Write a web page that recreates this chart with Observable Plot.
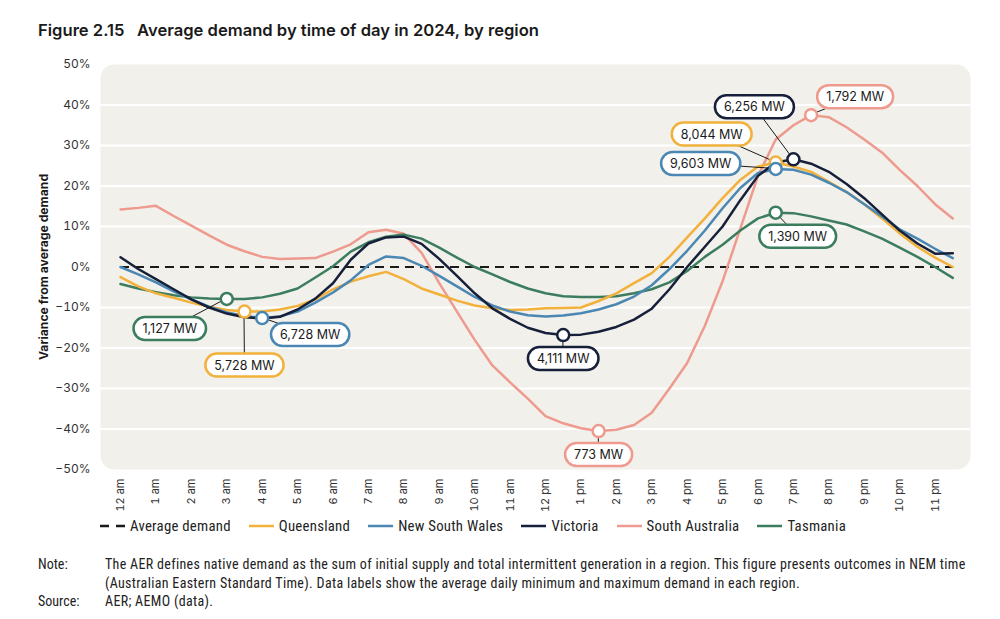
<!DOCTYPE html>
<html>
<head>
<meta charset="utf-8">
<script src="https://cdn.jsdelivr.net/npm/d3@7"></script>
<script src="https://cdn.jsdelivr.net/npm/@observablehq/plot@0.6"></script>
<style>
  html, body { margin: 0; padding: 0; background: #fff; }
  body { width: 1000px; height: 619px; overflow: hidden; font-family: Inter, Lato, sans-serif; color: #1a1a1a; }
  #title { height: 50px; box-sizing: border-box; padding: 20px 0 0 38px; font-size: 16.6px; font-weight: 600; white-space: pre; }
  #chart { height: 470px; }
  #legend { display: flex; align-items: center; height: 16px; margin-top: -2px; padding-left: 100px; font-family: "Roboto Condensed", "Liberation Sans Narrow", Roboto, sans-serif; font-size: 14.8px; letter-spacing: 0.25px; color: #222; }
  #legend .item { display: flex; align-items: center; margin-right: 18px; }
  #legend svg { margin-right: 5px; }
  #notes { margin-top: 21px; font-family: "Roboto Condensed", "Liberation Sans Narrow", Roboto, sans-serif; font-size: 14px; letter-spacing: 0.32px; color: #222; line-height: 18.5px; }
  #notes .row { display: flex; }
  #notes .k { width: 67px; padding-left: 38px; flex: none; letter-spacing: 0; }
  #notes .v { width: 890px; white-space: nowrap; }
</style>
</head>
<body>
<div id="title">Figure 2.15   Average demand by time of day in 2024, by region</div>
<div id="chart"></div>
<div id="legend"></div>
<div id="notes"></div>
<script>
// ---- data (half-hourly, % variance from average demand) ----
const halfHours = d3.range(0, 24, 0.5);
const hourTicks = d3.range(0, 24);
const hourLabels = ["12 am","1 am","2 am","3 am","4 am","5 am","6 am","7 am","8 am","9 am","10 am","11 am",
                    "12 pm","1 pm","2 pm","3 pm","4 pm","5 pm","6 pm","7 pm","8 pm","9 pm","10 pm","11 pm"];
const yTicks = [-50,-40,-30,-20,-10,0,10,20,30,40,50];
const regions = ["Queensland","New South Wales","Victoria","South Australia","Tasmania"];
const regionColors = ["#F1B13B","#4B87B3","#16203A","#EE9A8E","#3B7D5E"];

const queensland = [-2.5,-4.8,-6.5,-7.6,-8.8,-9.8,-10.6,-11,-11,-10.5,-9.6,-8,
                    -5.5,-3.6,-2.3,-1.2,-3,-5.3,-6.8,-8.3,-9.5,-10.2,-10.6,-10.5,
                    -10.2,-10.1,-10,-8.4,-6.5,-4,-1.5,2.5,7.3,12,17,21.5,
                    24.8,25.8,24.8,23.5,21,18.5,15.5,12,8.3,5,2.3,0];
const newSouthWales = [0,-1.8,-3.8,-6,-8,-9.8,-11.2,-12.1,-12.6,-12.2,-11,-8.8,
                       -6.3,-3.3,0.5,2.6,2.2,0.3,-2.2,-4.8,-7.4,-9.5,-11,-11.9,
                       -12.2,-12,-11.4,-10.5,-9.2,-7.3,-4.5,-0.5,4,9,14.5,19.5,
                       23.2,24.2,24,22.8,20.8,18.5,15.5,12.5,9.3,7,4.5,2.2];
const victoria = [2.4,-0.5,-3,-5.5,-8,-10,-11.5,-12.4,-12.7,-12.3,-10.5,-7.8,
                  -4,1.8,5.8,7.3,7.5,5.7,2,-2.2,-6.5,-10.2,-12.8,-15,
                  -16.3,-16.8,-16.7,-16,-14.8,-13,-10.3,-5.5,0,5,10,16.5,
                  22.5,25.8,26.6,25.5,23.5,20.5,17,13,9,5.8,3.3,3.4];
const southAustralia = [14.2,14.6,15.1,12.6,10.2,7.8,5.5,3.9,2.5,2,2.1,2.2,
                        3.8,5.6,8.6,9.2,8.2,3.5,-4,-11,-18,-24.3,-28.5,-32.5,
                        -36.8,-38.6,-39.8,-40.5,-40.2,-39,-36,-30,-23.7,-14.5,-3.5,9.5,
                        22.5,31.5,35,37.5,37,34.5,31.5,28.3,24,20,15.5,12];
const tasmania = [-4.2,-5.3,-6.2,-7,-7.5,-7.8,-7.9,-7.9,-7.5,-6.6,-5.3,-2.6,
                  0.2,3.8,6.1,7.5,8,7,4.8,2.3,0,-1.8,-3.7,-5.3,
                  -6.5,-7.2,-7.4,-7.4,-7.2,-6.5,-5.5,-3.8,-1,2.5,5.5,9,
                  12,13.4,13.3,12.5,11.5,10.5,8.8,7,4.8,2.5,0,-2.7];

// callouts: min / max demand labels
const calloutRegion = ["Tasmania","Queensland","New South Wales","Victoria","South Australia",
                       "Tasmania","Queensland","New South Wales","Victoria","South Australia"];
const calloutHour   = [3, 3.5, 4, 12.5, 13.5, 18.5, 18.5, 18.5, 19, 19.5];
const calloutLabel  = ["1,127 MW","5,728 MW","6,728 MW","4,111 MW","773 MW",
                       "1,390 MW","8,044 MW","9,603 MW","6,256 MW","1,792 MW"];
// label offsets (px) from the marker
const calloutDx = [-57, 0, 48, 0, 0, 22, -64, -75, -39, 44];
const calloutDy = [30, 54, 17, 24, 24, 24, -28, -5, -52, -18];

// ---- build tables ----
const seriesValues = {"Queensland": queensland, "New South Wales": newSouthWales, "Victoria": victoria,
                      "South Australia": southAustralia, "Tasmania": tasmania};
const drawOrder = ["South Australia","Tasmania","Queensland","New South Wales","Victoria"];
const rows = drawOrder.flatMap(r => halfHours.map((h, i) => ({region: r, hour: h, value: seriesValues[r][i]})));
const colorOf = r => regionColors[regions.indexOf(r)];
const callouts = calloutLabel.map((label, i) => {
  const region = calloutRegion[i], hour = calloutHour[i];
  return {region, hour, label, value: seriesValues[region][halfHours.indexOf(hour)], dx: calloutDx[i], dy: calloutDy[i]};
});

const pct = d => (d < 0 ? "\u2212" : "") + Math.abs(d) + "%";

const plot = Plot.plot({
  width: 1000,
  height: 470,
  marginTop: 14,
  marginBottom: 51,
  marginLeft: 100,
  marginRight: 30,
  style: {fontFamily: "Inter, Lato, sans-serif", color: "#333", background: "transparent"},
  x: {domain: [-0.565, 24.0]},
  y: {domain: [-50, 50]},
  color: {domain: regions, range: regionColors},
  marks: [
    Plot.frame({fill: "#F2F0EB", rx: 14, ry: 14}),
    Plot.ruleY(yTicks.filter(t => t !== 0 && Math.abs(t) < 50), {stroke: "#fff", strokeWidth: 2}),
    Plot.ruleY([0], {x1: halfHours[0], x2: halfHours[halfHours.length - 1], stroke: "#1a1a1a", strokeWidth: 2.2, strokeDasharray: "9,6"}),
    Plot.axisY({ticks: yTicks, tickSize: 0, tickPadding: 10, tickFormat: pct, fontSize: 12, label: null}),
    Plot.axisX({ticks: hourTicks, tickSize: 0, tickPadding: 9, tickRotate: -90, tickFormat: i => hourLabels[i], fontSize: 11, label: null}),
    Plot.text(["Variance from average demand"], {frameAnchor: "left", textAnchor: "middle", dx: -56, rotate: -90, fontWeight: "bold", fontSize: 12.2, fill: "#1a1a1a"}),
    Plot.line(rows, {x: "hour", y: "value", z: "region", stroke: "region", strokeWidth: 2.5, curve: "linear"}),
    Plot.dot(callouts, {x: "hour", y: "value", r: 6, fill: "#fff", stroke: "region", strokeWidth: 2.5}),
    ...callouts.map(c => Plot.text([c], {x: "hour", y: "value", text: "label", dx: c.dx, dy: c.dy, fontSize: 12.5, fill: "#1a1a1a"}))
  ]
});
document.getElementById("chart").append(plot);

// ---- pill boxes and leader lines for callouts ----
const NS = "http://www.w3.org/2000/svg";
const sx = plot.scale("x"), sy = plot.scale("y");
const svgBox = plot.getBoundingClientRect();
const leaderG = document.createElementNS(NS, "g");
const dotsG = plot.querySelector('g[aria-label="dot"]');
plot.insertBefore(leaderG, dotsG);
const allTexts = Array.from(plot.querySelectorAll("text"));
callouts.forEach((c, i) => {
  const t = allTexts.find(el => el.textContent === c.label);
  if (!t) return;
  const g = t.parentNode;
  const bb = t.getBBox();
  const padX = 9, padY = 4;
  const rect = document.createElementNS(NS, "rect");
  const h = bb.height + 2 * padY;
  rect.setAttribute("x", bb.x - padX);
  rect.setAttribute("y", bb.y - padY);
  rect.setAttribute("width", bb.width + 2 * padX);
  rect.setAttribute("height", h);
  rect.setAttribute("rx", h / 2);
  rect.setAttribute("fill", "#fff");
  rect.setAttribute("stroke", colorOf(c.region));
  rect.setAttribute("stroke-width", 2.5);
  if (t.getAttribute("transform")) rect.setAttribute("transform", t.getAttribute("transform"));
  g.insertBefore(rect, t);
  const rb = rect.getBoundingClientRect();
  const line = document.createElementNS(NS, "line");
  line.setAttribute("x1", sx.apply(c.hour));
  line.setAttribute("y1", sy.apply(c.value));
  line.setAttribute("x2", rb.left + rb.width / 2 - svgBox.left);
  line.setAttribute("y2", rb.top + rb.height / 2 - svgBox.top);
  line.setAttribute("stroke", "#1a1a1a");
  line.setAttribute("stroke-width", 1);
  leaderG.append(line);
});

// ---- legend ----
const legend = document.getElementById("legend");
const legendItems = [{name: "Average demand", color: "#1a1a1a", dash: "9,7"}].concat(regions.map(r => ({name: r, color: colorOf(r), dash: null})));
legendItems.forEach(it => {
  const item = document.createElement("div");
  item.className = "item";
  item.innerHTML = `<svg width="25" height="6"><line x1="0" x2="25" y1="3" y2="3" stroke="${it.color}" stroke-width="2.5" ${it.dash ? `stroke-dasharray="${it.dash}"` : ""}/></svg><span>${it.name}</span>`;
  legend.append(item);
});

// ---- notes ----
const notes = [
  ["Note:", "The AER defines native demand as the sum of initial supply and total intermittent generation in a region. This figure presents outcomes in NEM time<br>(Australian Eastern Standard Time). Data labels show the average daily minimum and maximum demand in each region."],
  ["Source:", "AER; AEMO (data)."]
];
const notesEl = document.getElementById("notes");
notes.forEach(([k, v]) => {
  const row = document.createElement("div");
  row.className = "row";
  row.innerHTML = `<div class="k">${k}</div><div class="v">${v}</div>`;
  notesEl.append(row);
});
</script>
</body>
</html>
